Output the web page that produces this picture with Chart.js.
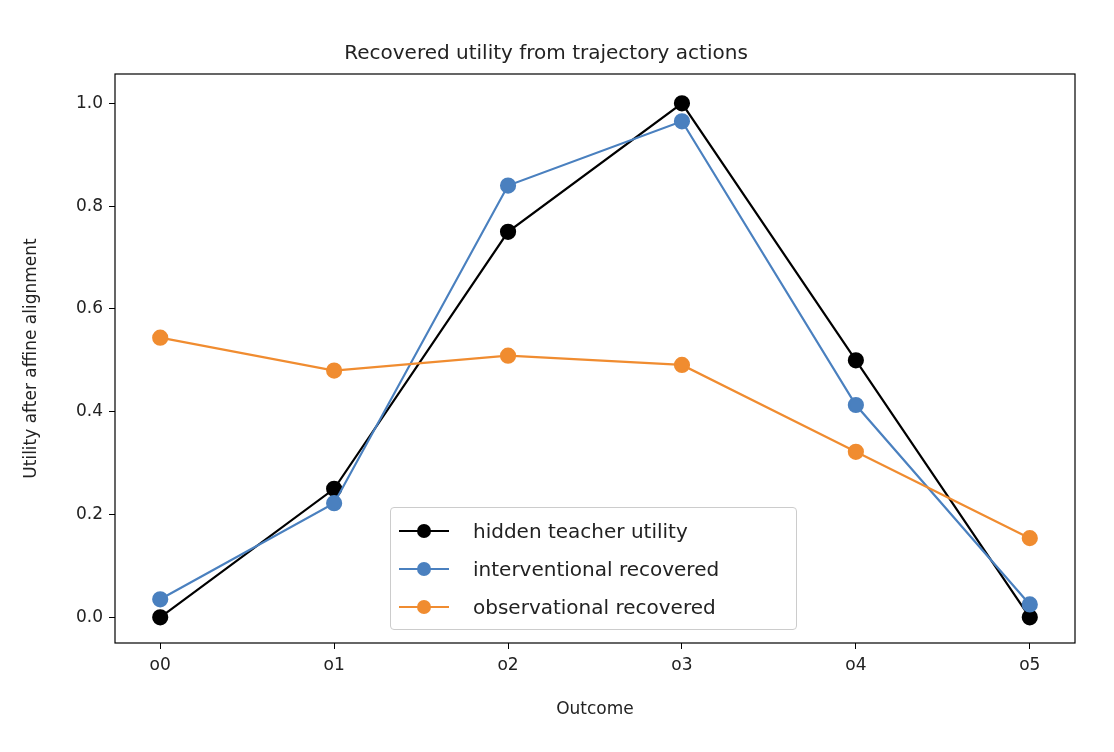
<!DOCTYPE html>
<html>
<head>
<meta charset="utf-8">
<script src="https://cdn.jsdelivr.net/npm/chart.js@4"></script>
<style>
  body { margin: 0; background: #fff; }
  #wrap { position: relative; width: 1114px; height: 752px; font-family: "DejaVu Sans", sans-serif; }
  #legend { position: absolute; left: 390px; top: 507px; width: 407px; height: 123px; border: 1px solid #ccc;
            border-radius: 4px; background: rgba(255,255,255,0.85); box-sizing: border-box; padding: 4px 0 0 8px; }
  .item { display: flex; align-items: center; height: 38px; font-size: 20px; color: #222; }
  .sw { position: relative; width: 50px; height: 14px; margin-right: 24px; }
  .sw:before { content: ""; position: absolute; left: 0; right: 0; top: 6px; height: 2px; background: var(--c); }
  .sw:after { content: ""; position: absolute; left: 18px; top: 0; width: 14px; height: 14px; border-radius: 50%; background: var(--c); }
</style>
</head>
<body>
<div id="wrap">
  <canvas id="chart" width="1114" height="752"></canvas>
  <div id="legend"></div>
</div>
<script>
const outcomes = ['o0', 'o1', 'o2', 'o3', 'o4', 'o5'];
const hiddenTeacher = [0, 0.25, 0.75, 1.0, 0.5, 0];
const interventional = [0.035, 0.222, 0.84, 0.965, 0.413, 0.025];
const observational = [0.544, 0.48, 0.509, 0.491, 0.322, 0.154];
const yTicks = [0, 0.2, 0.4, 0.6, 0.8, 1.0];

const series = [
    { label: 'hidden teacher utility', data: hiddenTeacher, color: '#000000', order: 3 },
    { label: 'interventional recovered', data: interventional, color: '#4a80bf', order: 2 },
    { label: 'observational recovered', data: observational, color: '#f08c30', order: 1 }
];

// legend box
document.getElementById('legend').innerHTML = series.map(s =>
    `<div class="item"><span class="sw" style="--c:${s.color}"></span>${s.label}</div>`).join('');

const frame = {
    id: 'frame',
    afterDraw(chart) {
        const a = chart.chartArea, ctx = chart.ctx;
        ctx.save();
        ctx.strokeStyle = '#000';
        ctx.lineWidth = 1.2;
        ctx.strokeRect(a.left, a.top, a.right - a.left, a.bottom - a.top);
        ctx.restore();
    }
};

const font = { family: 'DejaVu Sans', size: 17 };

new Chart(document.getElementById('chart').getContext('2d'), {
    type: 'line',
    data: {
        datasets: series.map(s => ({
            label: s.label,
            data: s.data.map((v, i) => ({ x: i, y: v })),
            borderColor: s.color,
            backgroundColor: s.color,
            borderWidth: 2.2,
            pointRadius: 7,
            pointHoverRadius: 7,
            order: s.order
        }))
    },
    options: {
        responsive: false,
        animation: false,
        devicePixelRatio: 1,
        layout: { padding: { left: 17, right: 39, top: 0, bottom: 28 } },
        plugins: {
            legend: { display: false },
            tooltip: { enabled: false },
            title: {
                display: true,
                text: 'Recovered utility from trajectory actions',
                color: '#222',
                font: { family: 'DejaVu Sans', size: 20, weight: 'normal' },
                padding: { top: 42, bottom: 8 }
            }
        },
        scales: {
            x: {
                type: 'linear',
                min: -0.26, max: 5.26,
                afterBuildTicks: s => { s.ticks = outcomes.map((_, i) => ({ value: i })); },
                afterFit: s => { s.height = 81; },
                ticks: { color: '#222', font, padding: 6, callback: v => outcomes[v] },
                grid: { drawOnChartArea: false, tickLength: 6, color: '#000' },
                border: { display: false },
                title: { display: true, text: 'Outcome', color: '#222', font, padding: { top: 8 } }
            },
            y: {
                min: -0.05, max: 1.057,
                afterBuildTicks: s => { s.ticks = yTicks.map(v => ({ value: v })); },
                afterFit: s => { s.width = 98; },
                ticks: { color: '#222', font, padding: 6, callback: v => v.toFixed(1) },
                grid: { drawOnChartArea: false, tickLength: 6, color: '#000' },
                border: { display: false },
                title: { display: true, text: 'Utility after affine alignment', color: '#222', font, padding: { bottom: 6 } }
            }
        }
    },
    plugins: [frame]
});
</script>
</body>
</html>
